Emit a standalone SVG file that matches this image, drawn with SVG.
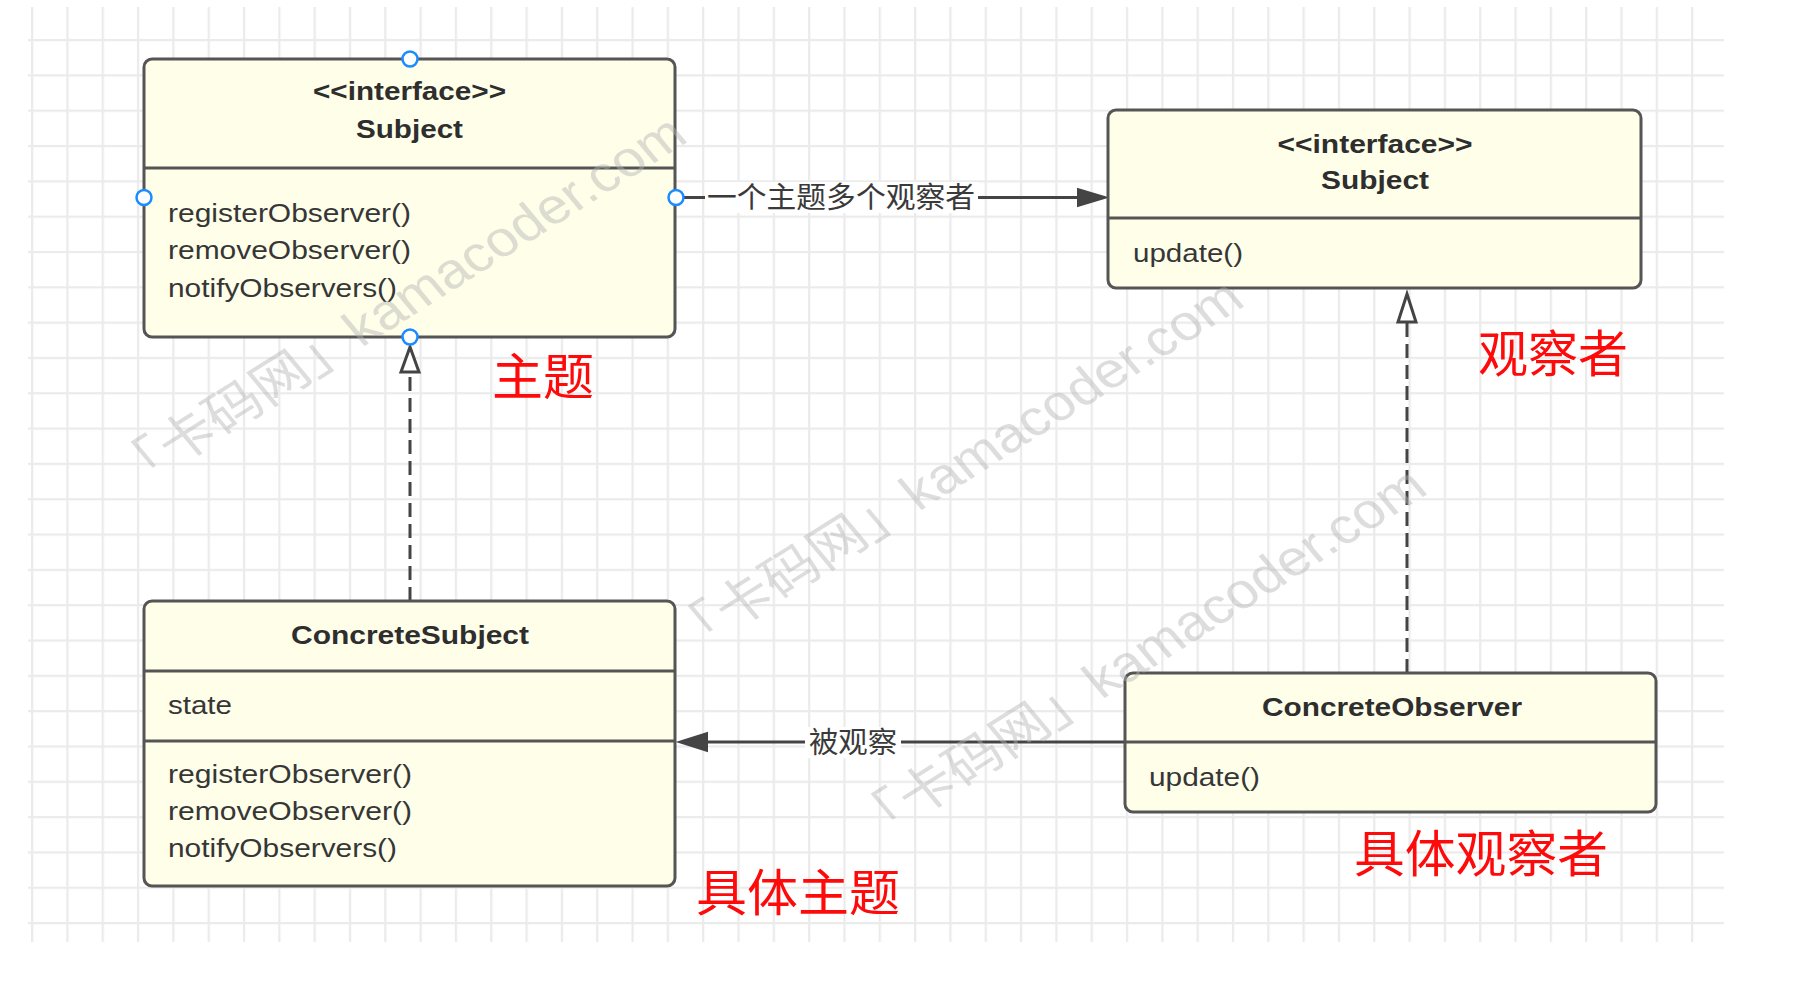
<svg xmlns="http://www.w3.org/2000/svg" width="1804" height="1000" viewBox="0 0 1804 1000">
<style>
.box{fill:#fefee9;stroke:#555;stroke-width:3}
.div{stroke:#555;stroke-width:3}
.t{font-family:"Liberation Sans",Arial,"Noto Sans CJK SC",sans-serif;font-size:26px;fill:#363636}
.b{font-weight:bold;text-anchor:middle;fill:#2e2e2e}
.edge{stroke:#444;stroke-width:3;fill:none}
.dash{stroke-dasharray:14 7}
.head{fill:#444;stroke:#444;stroke-width:2;stroke-linejoin:miter}
.hollow{fill:#fff;stroke:#444;stroke-width:3;stroke-linejoin:miter}
.lbl{font-family:"Noto Sans CJK SC","Liberation Sans",sans-serif;font-size:29px;fill:#3a3a3a}
.red{font-family:"Noto Sans CJK SC",sans-serif;font-size:50px;fill:#ff0a0a}
.handle{fill:#fff;stroke:#1a8cff;stroke-width:2.5}
.wm{font-family:"Liberation Sans","Noto Sans CJK SC",sans-serif;font-size:50px;fill:#b4b4b4;opacity:0.45}
</style>
<defs>
<pattern id="grid" x="31" y="39" width="35.32" height="35.32" patternUnits="userSpaceOnUse">
<path d="M1,0 V35.32 M0,1 H35.32" stroke="#ebebeb" stroke-width="2.5" fill="none"/>
</pattern>
</defs>
<rect x="0" y="0" width="1804" height="1000" fill="#fff"/>
<rect x="28" y="7" width="1696" height="935" fill="url(#grid)"/>

<g id="connectors">
<g id="e-assoc-subject-observer">
<path class="edge" d="M676,197.5 H1080"/>
<polygon class="head" points="1106,197.5 1078,189 1078,206"/>
<rect x="705" y="182" width="273" height="31" fill="#fff"/>
<text class="lbl" x="707" y="208" textLength="268" lengthAdjust="spacingAndGlyphs">一个主题多个观察者</text>
</g>
<g id="e-assoc-observer-subject">
<path class="edge" d="M1125,742 H705"/>
<polygon class="head" points="679,742 707,733 707,751"/>
<rect x="805" y="727" width="96" height="31" fill="#fff"/>
<text class="lbl" x="809" y="753" textLength="88" lengthAdjust="spacingAndGlyphs">被观察</text>
</g>
<g id="e-real-concretesubject">
<path class="edge dash" d="M410,601 V372"/>
<polygon class="hollow" points="410,347 401,372 419,372"/>
</g>
<g id="e-real-concreteobserver">
<path class="edge dash" d="M1407,673 V322"/>
<polygon class="hollow" points="1407,294 1398,322 1416,322"/>
</g>
</g>

<g id="subject">
<rect class="box" x="144" y="59" width="531" height="278" rx="8"/>
<line class="div" x1="144" y1="168" x2="675" y2="168"/>
<text class="t b" x="409.5" y="100" textLength="193" lengthAdjust="spacingAndGlyphs">&lt;&lt;interface&gt;&gt;</text>
<text class="t b" x="409.5" y="138" textLength="107" lengthAdjust="spacingAndGlyphs">Subject</text>
<text class="t" x="168" y="222" textLength="243" lengthAdjust="spacingAndGlyphs">registerObserver()</text>
<text class="t" x="168" y="259" textLength="243" lengthAdjust="spacingAndGlyphs">removeObserver()</text>
<text class="t" x="168" y="297" textLength="229" lengthAdjust="spacingAndGlyphs">notifyObservers()</text>
<circle class="handle" cx="410" cy="59" r="7.5"/>
<circle class="handle" cx="144" cy="197.5" r="7.5"/>
<circle class="handle" cx="676" cy="197.5" r="7.5"/>
<circle class="handle" cx="410" cy="337" r="7.5"/>
</g>

<g id="observer">
<rect class="box" x="1108" y="110" width="533" height="178" rx="8"/>
<line class="div" x1="1108" y1="218" x2="1641" y2="218"/>
<text class="t b" x="1375" y="153" textLength="195" lengthAdjust="spacingAndGlyphs">&lt;&lt;interface&gt;&gt;</text>
<text class="t b" x="1375" y="189" textLength="108" lengthAdjust="spacingAndGlyphs">Subject</text>
<text class="t" x="1133" y="262" textLength="110" lengthAdjust="spacingAndGlyphs">update()</text>
</g>

<g id="concrete-subject">
<rect class="box" x="144" y="601" width="531" height="285" rx="8"/>
<line class="div" x1="144" y1="671" x2="675" y2="671"/>
<line class="div" x1="144" y1="741" x2="675" y2="741"/>
<text class="t b" x="410" y="644" textLength="238" lengthAdjust="spacingAndGlyphs">ConcreteSubject</text>
<text class="t" x="168" y="714" textLength="64" lengthAdjust="spacingAndGlyphs">state</text>
<text class="t" x="168" y="783" textLength="244" lengthAdjust="spacingAndGlyphs">registerObserver()</text>
<text class="t" x="168" y="820" textLength="244" lengthAdjust="spacingAndGlyphs">removeObserver()</text>
<text class="t" x="168" y="857" textLength="229" lengthAdjust="spacingAndGlyphs">notifyObservers()</text>
</g>

<g id="concrete-observer">
<rect class="box" x="1125" y="673" width="531" height="139" rx="8"/>
<line class="div" x1="1125" y1="742" x2="1656" y2="742"/>
<text class="t b" x="1392" y="716" textLength="260" lengthAdjust="spacingAndGlyphs">ConcreteObserver</text>
<text class="t" x="1149" y="786" textLength="111" lengthAdjust="spacingAndGlyphs">update()</text>
</g>

<g id="labels">
<text class="red" x="492" y="395" textLength="102" lengthAdjust="spacingAndGlyphs">主题</text>
<text class="red" x="1478" y="372" textLength="150" lengthAdjust="spacingAndGlyphs">观察者</text>
<text class="red" x="696" y="911" textLength="204" lengthAdjust="spacingAndGlyphs">具体主题</text>
<text class="red" x="1354" y="872" textLength="254" lengthAdjust="spacingAndGlyphs">具体观察者</text>
</g>

<g id="watermark">
<text class="wm" transform="translate(129,495) scale(1.15,1) rotate(-36)">「卡码网」kamacoder.com</text>
<text class="wm" transform="translate(686,659) scale(1.15,1) rotate(-36)">「卡码网」kamacoder.com</text>
<text class="wm" transform="translate(869,847) scale(1.15,1) rotate(-36)">「卡码网」kamacoder.com</text>
</g>
</svg>
